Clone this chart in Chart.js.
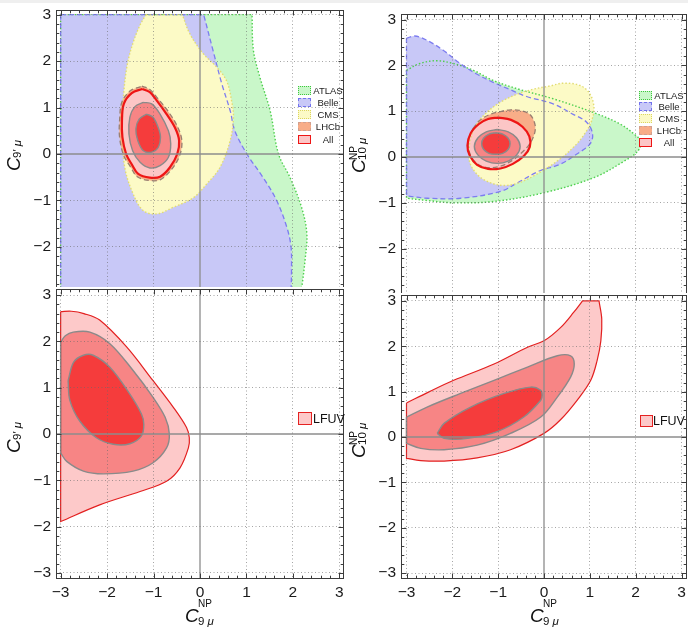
<!DOCTYPE html>
<html><head><meta charset="utf-8">
<script src="https://cdn.jsdelivr.net/npm/chart.js@4.4.1/dist/chart.umd.min.js"></script>
<style>
html,body{margin:0;padding:0;background:#fff;}
body{width:688px;height:630px;position:relative;overflow:hidden;font-family:"Liberation Sans",Arial,sans-serif;}
canvas{position:absolute;background:#fff;}
.t{position:absolute;white-space:nowrap;color:#111;line-height:1;font-family:"Liberation Sans",Arial,sans-serif;}
.rot{position:absolute;transform:rotate(-90deg);transform-origin:0 0;width:60px;height:30px;}
.box{position:absolute;box-sizing:border-box;}
.lab{position:absolute;font-size:9.5px;line-height:9px;text-align:center;color:#222;white-space:nowrap;}
#strip{position:absolute;left:0;top:0;width:688px;height:3px;background:#efefef;z-index:5;}
</style></head>
<body>
<div id="strip"></div>
<canvas id="c1" width="344" height="300" style="left:0;top:0"></canvas>
<canvas id="c2" width="344" height="302" style="left:344px;top:0"></canvas>
<canvas id="c3" width="344" height="343" style="left:0;top:287px"></canvas>
<canvas id="c4" width="344" height="337" style="left:344px;top:293px"></canvas>
<script>
// ---------- data ----------
const axisTicks = [-3, -2, -1, 0, 1, 2, 3];
const legendNames = ['ATLAS', 'Belle', 'CMS', 'LHCb', 'All'];
const lfuvName = 'LFUV';

// Panel 1: C9 (x) vs C9' (y)
const p1_atlas = [[-3,3],[1.12,3],[1.12,3],[1.15,2.23],[1.29,1.65],[1.51,0.93],[1.69,0],[1.94,-0.51],[2.19,-1.16],[2.30,-1.72],[2.26,-2.30],[2.19,-2.88],[2.17,-3],[2.17,-3],[-3,-3],[-3,-3],[-3,3]];
const p1_belle = [[-3,3],[0.08,3],[0.08,3],[0.28,2.23],[0.47,1.51],[0.65,0.93],[0.75,0.5],[1.01,0.0],[1.36,-0.51],[1.65,-1.0],[1.87,-1.58],[1.96,-2.0],[1.97,-2.5],[1.96,-3],[1.96,-3],[-3,-3],[-3,-3],[-3,3]];
const p1_cms = [[-1.16,3],[-0.38,3],[-0.38,3],[-0.22,2.59],[0.07,2.16],[0.36,1.87],[0.57,1.58],[0.68,1.15],[0.72,0.79],[0.65,0.29],[0.43,-0.29],[0.14,-0.65],[-0.14,-0.94],[-0.58,-1.15],[-0.93,-1.29],[-1.22,-1.22],[-1.44,-0.86],[-1.62,-0.29],[-1.67,0.43],[-1.65,1.2],[-1.57,1.9],[-1.44,2.4],[-1.28,2.8],[-1.16,3]];
const p1_lhcb = [[-1.25,1.46],[-1.08,1.39],[-0.92,1.21],[-0.68,0.91],[-0.48,0.58],[-0.39,0.28],[-0.44,-0.04],[-0.62,-0.34],[-0.85,-0.55],[-1.08,-0.57],[-1.35,-0.49],[-1.50,-0.27],[-1.64,-0.04],[-1.73,0.35],[-1.73,0.74],[-1.68,1.12],[-1.50,1.36],[-1.25,1.46]];
const p1_all = [[-1.24,1.40],[-1.08,1.33],[-0.93,1.15],[-0.72,0.86],[-0.54,0.57],[-0.45,0.29],[-0.49,0.0],[-0.65,-0.29],[-0.86,-0.49],[-1.08,-0.51],[-1.33,-0.43],[-1.47,-0.22],[-1.59,0.0],[-1.67,0.36],[-1.68,0.72],[-1.64,1.08],[-1.47,1.31],[-1.24,1.40]];
const p1_mid = [[-1.22,1.11],[-1.04,1.08],[-0.86,0.86],[-0.68,0.50],[-0.63,0.22],[-0.68,-0.07],[-0.86,-0.25],[-1.08,-0.30],[-1.29,-0.18],[-1.45,0.07],[-1.53,0.43],[-1.51,0.79],[-1.40,1.02],[-1.22,1.11]];
const p1_in = [[-1.15,0.86],[-1.01,0.79],[-0.90,0.57],[-0.85,0.36],[-0.90,0.14],[-1.04,0.04],[-1.22,0.07],[-1.34,0.29],[-1.38,0.54],[-1.31,0.75],[-1.15,0.86]];

// Panel 2: C9 (x) vs C10 (y)
const p2_atlas = [[-3,1.89],[-2.71,2.04],[-2.34,2.10],[-1.98,2.04],[-1.54,1.89],[-1.11,1.67],[-0.52,1.47],[0.2,1.27],[1.08,0.97],[1.66,0.72],[1.99,0.48],[2.12,0.33],[2.04,0.12],[1.75,-0.09],[1.09,-0.45],[0,-0.78],[-1.09,-0.97],[-1.96,-1.0],[-2.54,-0.95],[-3,-0.9],[-3,-0.9],[-3,1.89]];
const p2_belle = [[-3,2.59],[-2.82,2.64],[-2.56,2.55],[-2.20,2.33],[-1.83,2.04],[-1.47,1.81],[-1.11,1.63],[-0.74,1.47],[-0.38,1.32],[0.2,1.16],[0.6,0.95],[0.93,0.76],[1.06,0.50],[1.00,0.28],[0.71,0.06],[0.35,-0.16],[-0.09,-0.30],[-0.52,-0.53],[-0.95,-0.75],[-1.82,-0.90],[-2.54,-0.90],[-3,-0.85],[-3,-0.85],[-3,2.59]];
const p2_cms = [[-1.62,0.35],[-1.50,0.68],[-1.25,0.97],[-0.96,1.19],[-0.59,1.37],[-0.23,1.48],[0.13,1.55],[0.42,1.61],[0.79,1.56],[1.00,1.38],[1.09,1.08],[1.04,0.79],[0.93,0.57],[0.70,0.27],[0.30,-0.08],[-0.20,-0.40],[-0.60,-0.58],[-0.90,-0.62],[-1.20,-0.55],[-1.46,-0.38],[-1.63,-0.08],[-1.62,0.35]];
const p2_lhcb = [[-1.55,0.62],[-1.40,0.80],[-1.18,0.93],[-0.96,0.99],[-0.72,1.03],[-0.50,1.01],[-0.31,0.93],[-0.21,0.76],[-0.19,0.60],[-0.24,0.42],[-0.33,0.26],[-0.50,0.08],[-0.70,-0.08],[-0.95,-0.20],[-1.25,-0.23],[-1.48,-0.13],[-1.62,0.08],[-1.65,0.35],[-1.55,0.62]];
const p2_all = [[-1.0,0.86],[-0.72,0.81],[-0.47,0.66],[-0.32,0.45],[-0.31,0.22],[-0.44,0.02],[-0.68,-0.15],[-0.95,-0.25],[-1.22,-0.26],[-1.46,-0.17],[-1.62,0.03],[-1.67,0.25],[-1.60,0.52],[-1.42,0.72],[-1.22,0.83],[-1.0,0.86]];
const p2_mid = [[-1.02,0.60],[-0.78,0.55],[-0.60,0.42],[-0.52,0.23],[-0.60,0.04],[-0.78,-0.09],[-1.02,-0.14],[-1.26,-0.09],[-1.44,0.04],[-1.52,0.23],[-1.44,0.42],[-1.26,0.55],[-1.02,0.60]];
const p2_in = [[-1.05,0.53],[-0.90,0.50],[-0.78,0.41],[-0.74,0.29],[-0.78,0.17],[-0.90,0.08],[-1.05,0.06],[-1.20,0.08],[-1.32,0.17],[-1.36,0.29],[-1.32,0.41],[-1.20,0.50],[-1.05,0.53]];

// Panel 3: LFUV, C9 (x) vs C9' (y)
const p3_out = [[-3,2.64],[-2.77,2.65],[-2.5,2.6],[-2.16,2.46],[-1.58,1.88],[-1.01,1.15],[-0.57,0.57],[-0.29,0.14],[-0.23,-0.08],[-0.25,-0.30],[-0.43,-0.73],[-0.72,-1.02],[-1.29,-1.24],[-2.16,-1.53],[-3,-1.89],[-3,-1.89],[-3,2.64]];
const p3_mid = [[-3,1.98],[-2.9,2.12],[-2.73,2.20],[-2.37,2.20],[-1.94,1.95],[-1.44,1.37],[-1.01,0.79],[-0.75,0.36],[-0.66,0.0],[-0.72,-0.30],[-1.01,-0.62],[-1.44,-0.80],[-2.08,-0.86],[-2.51,-0.80],[-2.87,-0.59],[-3,-0.41],[-3,-0.41],[-3,1.98]];
const p3_in = [[-2.84,1.15],[-2.72,1.55],[-2.51,1.70],[-2.30,1.70],[-1.94,1.44],[-1.51,0.86],[-1.26,0.43],[-1.21,0.21],[-1.26,-0.04],[-1.51,-0.21],[-1.87,-0.22],[-2.23,-0.08],[-2.59,0.28],[-2.80,0.72],[-2.84,1.15]];

// Panel 4: LFUV, C9 (x) vs C10 (y)
const p4_out = [[-3,0.75],[-2.5,1.0],[-1.97,1.25],[-1.09,1.61],[-0.36,1.98],[0,2.12],[0.36,2.41],[0.65,2.75],[0.84,3.0],[0.84,3.0],[1.2,3.0],[1.2,3.0],[1.26,2.6],[1.24,2.12],[1.16,1.69],[1.02,1.25],[0.73,0.82],[0.36,0.38],[0,0.08],[-0.73,-0.28],[-1.46,-0.46],[-2.18,-0.53],[-2.69,-0.52],[-3,-0.47],[-3,-0.47],[-3,0.75]];
const p4_mid = [[-3,0.44],[-2.55,0.66],[-1.82,0.96],[-1.09,1.25],[-0.36,1.54],[0.29,1.79],[0.58,1.79],[0.66,1.61],[0.58,1.32],[0.29,0.88],[-0.07,0.44],[-0.73,0.08],[-1.46,-0.18],[-2.18,-0.28],[-2.69,-0.25],[-3,-0.14],[-3,-0.14],[-3,0.44]];
const p4_in = [[-2.33,0.08],[-2.18,0.30],[-1.60,0.66],[-0.87,0.96],[-0.29,1.10],[-0.07,1.03],[-0.04,0.92],[-0.07,0.81],[-0.44,0.44],[-1.02,0.12],[-1.67,-0.03],[-2.18,-0.03],[-2.33,0.08]];

// ---------- styles ----------
const FONT = '"Liberation Sans", Arial, sans-serif';
const ST = {
  atlas: {bg:'#c9f7c9', bc:'#4fcf4f', w:1.4, dash:[1.5,2]},
  belle: {bg:'#c8c8f7', bc:'#7d7df0', w:1.3, dash:[5,3]},
  cms:   {bg:'#fcfac6', bc:'#e2dc72', w:1.4, dash:[1.5,2]},
  lhcb:  {bg:'#f8ad88', bc:'#9a7e70', w:1.3, dash:[5,3]},
  all:   {bg:'#fcc6c6', bc:'#ee1515', w:2.2, dash:[]},
  mid:   {bg:'#f78585', bc:'#8a8a8a', w:1.4, dash:[]},
  inn:   {bg:'#f53c3c', bc:'#8a8a8a', w:1.4, dash:[]},
  out:   {bg:'#fdc9c9', bc:'#e32020', w:1.2, dash:[]}
};
function ds(label, pts, st, order) {
  return {label, data: pts.map(p => ({x: p[0], y: p[1]})), backgroundColor: st.bg, borderColor: st.bc,
    borderWidth: st.w, borderDash: st.dash, fill: 'shape', pointRadius: 0, tension: 0.35, order};
}
const fmt = v => (v < 0 ? '\u2212' + Math.abs(v) : String(v));
const gridColor = c => (c.tick && c.tick.value === 0) ? 'rgba(0,0,0,0)' : 'rgba(105,105,105,0.6)';
const noPad = s => { s.paddingTop = 0; s.paddingBottom = 0; s.paddingLeft = 0; s.paddingRight = 0; };

const framePlugin = {
  id: 'frame',
  afterDatasetsDraw(chart) {
    const {ctx, chartArea: a, scales: {x, y}} = chart;
    ctx.save();
    ctx.beginPath(); ctx.rect(a.left, a.top, a.right - a.left, a.bottom - a.top); ctx.clip();
    ctx.strokeStyle = '#8c8c8c'; ctx.lineWidth = 1.3;
    const x0 = x.getPixelForValue(0), y0 = y.getPixelForValue(0);
    ctx.beginPath(); ctx.moveTo(x0, a.top); ctx.lineTo(x0, a.bottom); ctx.stroke();
    ctx.beginPath(); ctx.moveTo(a.left, y0); ctx.lineTo(a.right, y0); ctx.stroke();
    ctx.restore();
  },
  afterDraw(chart) {
    const {ctx, chartArea: a, scales: {x, y}} = chart;
    ctx.save();
    ctx.strokeStyle = '#3c3c3c'; ctx.lineWidth = 1;
    const L = Math.round(a.left) + 0.5, R = Math.round(a.right) - 0.5, T = Math.round(a.top) + 0.5, B = Math.round(a.bottom) - 0.5;
    ctx.strokeRect(L, T, R - L, B - T);
    ctx.beginPath();
    for (let k = -16; k <= 16; k++) {
      const v = k / 5, len = (k % 5 === 0) ? 5 : 2.8;
      const px = Math.round(x.getPixelForValue(v)) + 0.5;
      if (px > L && px < R) { ctx.moveTo(px, B); ctx.lineTo(px, B - len); ctx.moveTo(px, T); ctx.lineTo(px, T + len); }
      const py = Math.round(y.getPixelForValue(v)) + 0.5;
      if (py > T && py < B) { ctx.moveTo(L, py); ctx.lineTo(L + len, py); ctx.moveTo(R, py); ctx.lineTo(R - len, py); }
    }
    ctx.stroke();
    ctx.restore();
  }
};

function makeChart(id, datasets, cfg) {
  return new Chart(document.getElementById(id), {
    type: 'line',
    data: {datasets},
    options: {
      responsive: false, animation: false, devicePixelRatio: 1, events: [],
      layout: {padding: {left: 0, top: cfg.padTop, right: cfg.padRight, bottom: 0}},
      plugins: {legend: {display: false}, tooltip: {enabled: false}, filler: {drawTime: 'beforeDatasetsDraw', propagate: false}},
      scales: {
        x: {type: 'linear', min: -cfg.xr, max: cfg.xr,
          afterBuildTicks: s => { s.ticks = axisTicks.map(v => ({value: v})); },
          afterFit: s => { s.height = cfg.xh; noPad(s); },
          grid: {color: gridColor, lineWidth: 1, drawTicks: false, z: 1},
          border: {display: false, dash: [1, 2.5]},
          ticks: {display: cfg.xlabels, padding: 4, maxRotation: 0, autoSkip: false, color: '#1a1a1a', font: {family: FONT, size: 15.5}, callback: fmt}},
        y: {type: 'linear', min: -cfg.yr, max: cfg.yr,
          afterBuildTicks: s => { s.ticks = axisTicks.map(v => ({value: v})); },
          afterFit: s => { s.width = cfg.yw; noPad(s); },
          grid: {color: gridColor, lineWidth: 1, drawTicks: false, z: 1},
          border: {display: false, dash: [1, 2.5]},
          ticks: {padding: 5, autoSkip: false, color: '#1a1a1a', font: {family: FONT, size: 15.5}, callback: fmt}}
      }
    },
    plugins: [framePlugin]
  });
}

function expSet(a, b, c, d, e, f, g) {
  return [ds(legendNames[0], a, ST.atlas, 7), ds(legendNames[1], b, ST.belle, 6), ds(legendNames[2], c, ST.cms, 5),
    ds(legendNames[3], d, ST.lhcb, 4), ds(legendNames[4], e, ST.all, 3), ds('All 2σ', f, ST.mid, 2), ds('All 1σ', g, ST.inn, 1)];
}
function lfuvSet(a, b, c) {
  return [ds(lfuvName, a, ST.out, 3), ds('LFUV 2σ', b, ST.mid, 2), ds('LFUV 1σ', c, ST.inn, 1)];
}

makeChart('c1', expSet(p1_atlas, p1_belle, p1_cms, p1_lhcb, p1_all, p1_mid, p1_in), {padTop: 10, padRight: 0, xr: 3.1, yr: 3.1, xh: 2, yw: 56, xlabels: false});
makeChart('c2', expSet(p2_atlas, p2_belle, p2_cms, p2_lhcb, p2_all, p2_mid, p2_in), {padTop: 14, padRight: 1, xr: 3.12, yr: 3.12, xh: 2, yw: 57, xlabels: false});
makeChart('c3', lfuvSet(p3_out, p3_mid, p3_in), {padTop: 2, padRight: 0, xr: 3.1, yr: 3.13, xh: 51, yw: 56, xlabels: true});
makeChart('c4', lfuvSet(p4_out, p4_mid, p4_in), {padTop: 2, padRight: 1, xr: 3.12, yr: 3.13, xh: 51, yw: 57, xlabels: true});

// ---------- HTML text: axis titles & legends ----------
const body = document.body;
function span(parent, html, size, left, baseline, italic) {
  const s = document.createElement('span');
  s.className = 't';
  s.innerHTML = html;
  s.style.fontSize = size + 'px';
  s.style.left = left + 'px';
  s.style.top = (baseline - 0.8465 * size) + 'px';
  if (italic) s.style.fontStyle = 'italic';
  parent.appendChild(s);
  return s;
}
function xTitle(left, base) {
  const d = document.createElement('div'); d.style.position = 'absolute'; d.style.left = '0'; d.style.top = '0'; d.style.zIndex = 6; body.appendChild(d);
  span(d, 'C', 19, left, base, true);
  span(d, 'NP', 10, left + 13, base - 15, false);
  span(d, '9 <i>μ</i>', 11.5, left + 13, base + 4, false);
}
xTitle(185, 622);
xTitle(530, 622);
function yTitle(X, Y, sup, sub) {
  const d = document.createElement('div'); d.className = 'rot'; d.style.left = X + 'px'; d.style.top = Y + 'px'; d.style.zIndex = 6; body.appendChild(d);
  span(d, 'C', 19, 0, 16, true);
  if (sup) span(d, sup, 10, 13, 8, false);
  span(d, sub, 11.5, 13, 18, false);
}
yTitle(4, 171, null, '9\u2032 <i>μ</i>');
yTitle(349, 173, 'NP', '10 <i>μ</i>');
yTitle(4, 453, null, '9\u2032 <i>μ</i>');
yTitle(349, 458, 'NP', '10 <i>μ</i>');

const legendStyles = [
  {bg: ST.atlas.bg, border: '1.5px dotted #3fc73f'},
  {bg: ST.belle.bg, border: '1.5px dashed #7373ee'},
  {bg: ST.cms.bg, border: '1.5px dotted #dcd560'},
  {bg: ST.lhcb.bg, border: '1.5px dashed #d2a08e'},
  {bg: ST.all.bg, border: '1.6px solid #ee1515'}
];
function legend(x, tops, labelLeft) {
  legendNames.forEach((n, i) => {
    const b = document.createElement('div'); b.className = 'box';
    b.style.cssText += `left:${x}px;top:${tops[i]}px;width:13px;height:9px;background:${legendStyles[i].bg};border:${legendStyles[i].border};z-index:6;`;
    body.appendChild(b);
    const l = document.createElement('div'); l.className = 'lab'; l.textContent = n;
    l.style.cssText += `left:${labelLeft}px;top:${tops[i]}px;width:30px;z-index:6;`;
    body.appendChild(l);
  });
}
legend(298, [86, 98, 110, 122, 135], 313);
legend(639, [91, 102, 114, 126, 138], 654);
function lfuvLegend(x, y, w, h, lx, ly) {
  const b = document.createElement('div'); b.className = 'box';
  b.style.cssText += `left:${x}px;top:${y}px;width:${w}px;height:${h}px;background:${ST.out.bg};border:1.3px solid #e52222;z-index:6;`;
  body.appendChild(b);
  span(body, lfuvName, 12.5, lx, ly, false).style.zIndex = 6;
}
lfuvLegend(298, 412, 14, 13, 313, 424);
lfuvLegend(640, 415, 13, 12, 653, 426);
</script>
</body></html>
